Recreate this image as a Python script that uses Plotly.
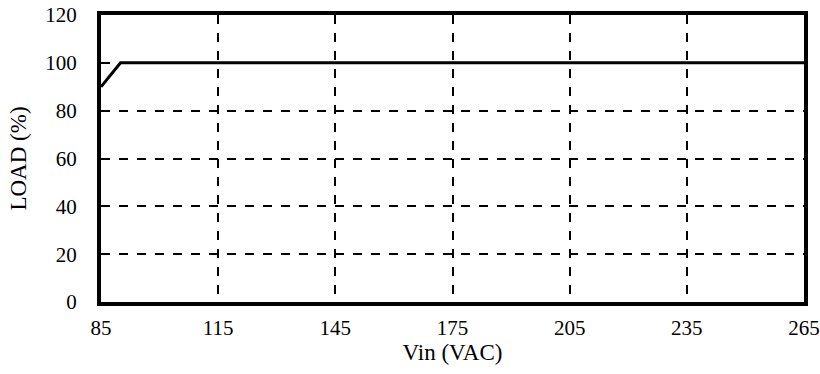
import plotly.graph_objects as go

vin = [85, 90, 265]
load = [90, 100, 100]
x_ticks = [85, 115, 145, 175, 205, 235, 265]
y_ticks = [0, 20, 40, 60, 80, 100, 120]

FAM = "Liberation Serif, Times New Roman, serif"
tick_font = dict(family=FAM, size=21, color="black")
title_font = dict(family=FAM, size=23, color="black")

fig = go.Figure()
fig.add_trace(go.Scatter(x=vin, y=load, mode="lines",
                         line=dict(color="black", width=3), showlegend=False))

fig.update_layout(
    width=820, height=374,
    margin=dict(l=101, r=16, t=15, b=72, autoexpand=False),
    paper_bgcolor="white", plot_bgcolor="white",
    font=dict(family=FAM, size=21, color="black"),
)
fig.update_xaxes(range=[85, 265], tickvals=x_ticks, ticks="", showline=True, mirror=True,
                 linecolor="black", linewidth=4, showgrid=True, gridcolor="black",
                 griddash="dash", gridwidth=1.5, zeroline=False, automargin=False,
                 tickfont=tick_font,
                 title=dict(text="Vin (VAC)", font=title_font, standoff=2),
                 ticklabelstandoff=4)
fig.update_yaxes(range=[0, 120], tickvals=y_ticks, ticks="", showline=True, mirror=True,
                 linecolor="black", linewidth=4, showgrid=True, gridcolor="black",
                 griddash="dash", gridwidth=1.5, zeroline=False, automargin=False,
                 tickfont=tick_font,
                 title=dict(text="LOAD (%)", font=title_font, standoff=13),
                 ticklabelstandoff=16)
fig.write_html("out.html", config={"displayModeBar": False},
               post_script="document.body.style.margin='0';document.body.style.overflow='hidden';")
